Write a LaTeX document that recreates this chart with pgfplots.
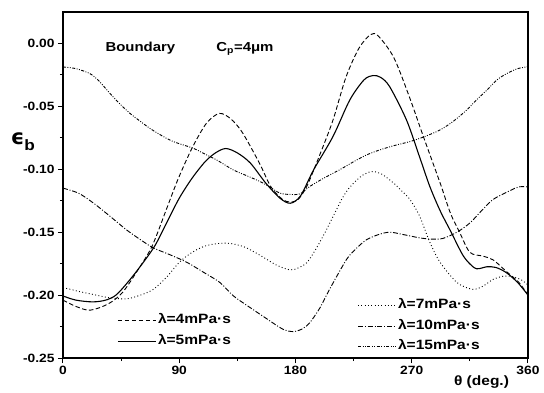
\documentclass[border=0pt]{standalone}
\usepackage{pgfplots}
\pgfplotsset{compat=1.18}
\usepackage{fontspec}
\setmainfont{Liberation Sans}[FakeStretch=1.15]
\newfontfamily\dejavu{DejaVu Sans}
\pgfplotsset{
  common/.style={
    scale only axis, width=465pt, height=346pt,
    xmin=0, xmax=360, ymin=-0.25, ymax=0.025,
    legend cell align=left,
    legend image code/.code={\draw[##1] (0pt,0pt) -- (38pt,0pt);},
  },
  lam4/.style={black, line width=0.9pt, dash pattern=on 4.5pt off 2.5pt},
  lam5/.style={black, line width=1.1pt},
  lam7/.style={black, line width=0.9pt, dash pattern=on 0.9pt off 2.4pt},
  lam10/.style={black, line width=0.9pt, dash pattern=on 5pt off 1.8pt on 1pt off 1.8pt},
  lam15/.style={black, line width=0.9pt, dash pattern=on 3pt off 1.5pt on 0.9pt off 1.5pt on 0.9pt off 1.5pt},
}
\begin{document}
\begin{tikzpicture}
\path[use as bounding box] (-63pt,-34pt) rectangle (481pt,358pt);
\begin{axis}[
  common,
  axis line style={line width=1.2pt},
  xtick={0,90,180,270,360}, minor xtick={45,135,225,315},
  ytick={-0.25,-0.2,-0.15,-0.1,-0.05,0},
  minor ytick={-0.225,-0.175,-0.125,-0.075,-0.025},
  xtick pos=bottom, ytick pos=left, tick align=outside,
  major tick length=5pt, minor tick length=3pt,
  every tick/.style={black, line width=1pt},
  scaled y ticks=false,
  /pgf/number format/assume math mode=true,
  ticklabel style={font=\bfseries\fontsize{12}{13}\selectfont},
  yticklabel style={/pgf/number format/.cd, fixed, fixed zerofill, precision=2},
  xlabel={θ (deg.)},
  every axis x label/.style={at={(axis description cs:0.9,0)}, yshift=-24pt, anchor=center, font=\bfseries\fontsize{13.5}{15}\selectfont},
  ylabel={{\dejavu\bfseries\fontsize{21}{22}\selectfont ϵ}{\bfseries\fontsize{15}{16}\selectfont\raisebox{-6pt}{b}}},
  every axis y label/.style={at={(axis description cs:0,0.624)}, xshift=-40pt, anchor=center},
  legend style={at={(axis cs:42,-0.212)}, anchor=north west, draw=none, fill=none, inner sep=0pt, row sep=0pt,
    font=\bfseries\fontsize{13.5}{15}\selectfont,
    nodes={text height=9.5pt, text depth=3pt, inner ysep=4pt, inner xsep=1.5pt}},
]
\addplot[lam4, smooth] coordinates {
(0,-0.204) (10,-0.209) (21,-0.212) (35,-0.207) (46,-0.198) (58,-0.18) (69,-0.161) (80,-0.132) (89,-0.108) (100,-0.083) (111,-0.0635) (121,-0.0556) (130,-0.06) (139,-0.071) (152,-0.095) (161,-0.114) (170,-0.124) (176,-0.126) (182,-0.124) (189,-0.113) (199,-0.088) (209,-0.061) (219,-0.027) (229,-0.004) (238,0.007) (244,0.006) (256,-0.011) (268,-0.042) (279,-0.074) (292,-0.111) (300,-0.135) (307,-0.150) (315,-0.166) (325,-0.169) (333,-0.172) (343,-0.181) (353,-0.19) (360,-0.2)
};
\addlegendentry{λ=4mPa·s}
\addplot[lam5, smooth] coordinates {
(0,-0.2007) (10,-0.204) (23,-0.2054) (33,-0.204) (41,-0.2) (50,-0.19) (60,-0.177) (71,-0.161) (80,-0.143) (90,-0.123) (100,-0.107) (110,-0.094) (118,-0.087) (126,-0.0835) (135,-0.087) (145,-0.095) (157,-0.111) (168,-0.123) (176,-0.127) (184,-0.121) (194,-0.1005) (209,-0.074) (222,-0.045) (233,-0.029) (240,-0.0255) (246,-0.027) (253,-0.0345) (266,-0.061) (276,-0.09) (284,-0.1137) (292,-0.133) (300,-0.149) (310,-0.169) (318,-0.178) (322,-0.179) (328,-0.1775) (335,-0.178) (343,-0.182) (352,-0.19) (360,-0.2)
};
\addlegendentry{λ=5mPa·s}
\node[anchor=base west, font=\bfseries\fontsize{13}{15}\selectfont] at (axis cs:30.2,-0.0065) {Boundary};
\node[anchor=base west, font=\bfseries\fontsize{13}{15}\selectfont] at (axis cs:116,-0.0065) {C\textsubscript{p}=4μm};
\end{axis}
\begin{axis}[
  common, hide axis,
  legend style={at={(axis cs:228,-0.2)}, anchor=north west, draw=none, fill=none, inner sep=0pt, row sep=0pt,
    font=\bfseries\fontsize{13.5}{15}\selectfont,
    nodes={text height=9.5pt, text depth=3pt, inner ysep=4pt, inner xsep=1.5pt}},
]
\addplot[lam7, smooth] coordinates {
(0,-0.194) (12,-0.197) (23,-0.1994) (35,-0.202) (49,-0.203) (60,-0.2) (70,-0.1954) (80,-0.186) (90,-0.174) (100,-0.166) (110,-0.161) (120,-0.159) (130,-0.159) (141,-0.162) (152,-0.168) (165,-0.176) (176,-0.180) (183,-0.178) (189,-0.174) (196,-0.163) (204,-0.148) (217,-0.1216) (225,-0.111) (233,-0.104) (240,-0.1018) (247,-0.104) (256,-0.111) (262,-0.117) (268.6,-0.124) (276,-0.137) (284,-0.158) (292,-0.174) (305,-0.190) (317,-0.1954) (325,-0.193) (333,-0.1875) (341,-0.185) (348,-0.1853) (355,-0.188) (360,-0.192)
};
\addlegendentry{λ=7mPa·s}
\addplot[lam10, smooth] coordinates {
(0,-0.115) (12,-0.119) (23.5,-0.1268) (36,-0.137) (49,-0.148) (60,-0.156) (70,-0.1625) (83,-0.168) (96,-0.174) (109,-0.182) (121.5,-0.190) (132,-0.2007) (145,-0.21) (158,-0.219) (170,-0.227) (178,-0.229) (185,-0.227) (191,-0.222) (199,-0.21) (206.6,-0.195) (219.5,-0.1717) (227,-0.163) (235,-0.156) (244,-0.152) (253,-0.150) (264,-0.152) (276,-0.1545) (285,-0.1555) (294,-0.155) (305,-0.15) (315,-0.1427) (324,-0.133) (333,-0.124) (346,-0.117) (353,-0.114) (360,-0.114)
};
\addlegendentry{λ=10mPa·s}
\addplot[lam15, smooth] coordinates {
(0,-0.0187) (10,-0.02) (20.9,-0.024) (28,-0.03) (36.4,-0.0398) (44,-0.048) (51.9,-0.0556) (60,-0.062) (67.3,-0.0675) (76,-0.073) (85.4,-0.078) (100.8,-0.0833) (110,-0.088) (119,-0.0926) (131.8,-0.1005) (142,-0.105) (152.5,-0.1097) (160,-0.114) (168,-0.119) (176,-0.12) (183.4,-0.1195) (191,-0.1137) (202,-0.107) (214,-0.1005) (225,-0.094) (235,-0.0886) (245,-0.0847) (257,-0.081) (268.6,-0.078) (280,-0.074) (291.8,-0.0688) (302,-0.062) (312.4,-0.053) (320,-0.045) (328,-0.0372) (336,-0.029) (343.4,-0.024) (352,-0.02) (360,-0.0185)
};
\addlegendentry{λ=15mPa·s}
\end{axis}
\end{tikzpicture}
\end{document}
